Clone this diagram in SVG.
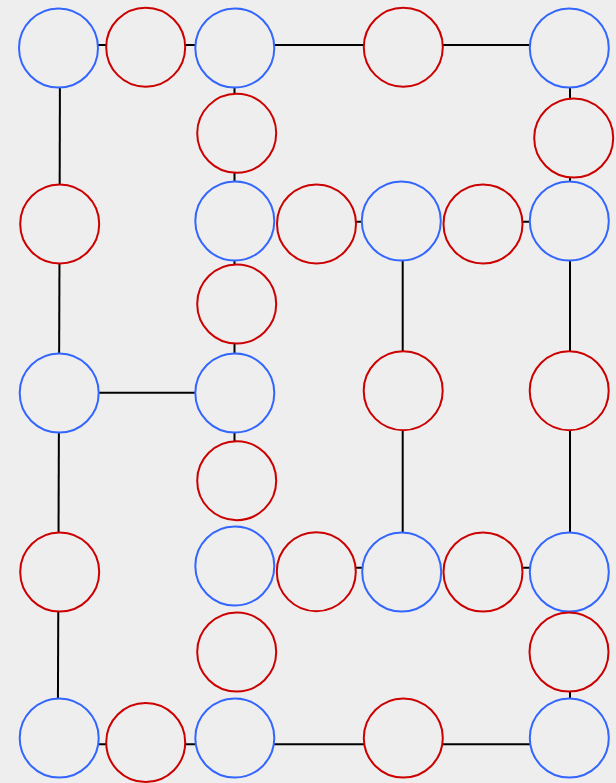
<svg xmlns="http://www.w3.org/2000/svg" width="616" height="783" viewBox="0 0 616 783">
<style>
.b{fill:#eeeeee;stroke:#3366ff;stroke-width:2}
.r{fill:#eeeeee;stroke:#cc0000;stroke-width:2}
#connectors line{stroke:#000;stroke-width:2}
</style>
<rect width="616" height="783" fill="#eeeeee"/>
<g id="connectors">
<line x1="58" y1="45" x2="146" y2="45"/>
<line x1="146" y1="45" x2="235" y2="45"/>
<line x1="235" y1="45" x2="403" y2="45"/>
<line x1="403" y1="45" x2="569" y2="45"/>
<line x1="60" y1="48" x2="59.6" y2="224"/>
<line x1="59.6" y1="224" x2="59" y2="393"/>
<line x1="59" y1="393" x2="58.4" y2="572"/>
<line x1="58.4" y1="572" x2="57.8" y2="738"/>
<line x1="59" y1="392.7" x2="235" y2="392.7"/>
<line x1="234.5" y1="48" x2="234.5" y2="133"/>
<line x1="234.5" y1="133" x2="234.5" y2="221"/>
<line x1="234.5" y1="221" x2="234.5" y2="304"/>
<line x1="234.5" y1="304" x2="234.5" y2="393"/>
<line x1="234.5" y1="393" x2="234.5" y2="481"/>
<line x1="316" y1="221.7" x2="401" y2="221.7"/>
<line x1="483" y1="221.7" x2="569" y2="221.7"/>
<line x1="402.7" y1="221" x2="402.7" y2="391"/>
<line x1="402.7" y1="391" x2="402.7" y2="572"/>
<line x1="570" y1="48" x2="570" y2="138"/>
<line x1="570" y1="138" x2="570" y2="221"/>
<line x1="570" y1="221" x2="570" y2="391"/>
<line x1="570" y1="391" x2="570" y2="572"/>
<line x1="570" y1="652" x2="570" y2="738"/>
<line x1="316" y1="567.7" x2="401" y2="567.7"/>
<line x1="483" y1="567.7" x2="569" y2="567.7"/>
<line x1="59" y1="744.3" x2="146" y2="744.3"/>
<line x1="146" y1="744.3" x2="235" y2="744.3"/>
<line x1="235" y1="744.3" x2="403" y2="744.3"/>
<line x1="403" y1="744.3" x2="569" y2="744.3"/>
</g>
<g id="b1"><circle class="b" cx="58.5" cy="48" r="39.5"/></g>
<g id="r1"><circle class="r" cx="145.7" cy="47.2" r="39.5"/></g>
<g id="b2"><circle class="b" cx="234.8" cy="48" r="39.5"/></g>
<g id="r2"><circle class="r" cx="403.3" cy="47.2" r="39.5"/></g>
<g id="b3"><circle class="b" cx="569.3" cy="48" r="39.5"/></g>
<g id="r3"><circle class="r" cx="236.7" cy="133.3" r="39.5"/></g>
<g id="r4"><circle class="r" cx="573.7" cy="138" r="39.5"/></g>
<g id="r5"><circle class="r" cx="59.7" cy="224" r="39.5"/></g>
<g id="b4"><circle class="b" cx="234.8" cy="221" r="39.5"/></g>
<g id="r6"><circle class="r" cx="316.5" cy="224" r="39.5"/></g>
<g id="b5"><circle class="b" cx="401.3" cy="221" r="39.5"/></g>
<g id="r7"><circle class="r" cx="483" cy="224" r="39.5"/></g>
<g id="b6"><circle class="b" cx="569.3" cy="221" r="39.5"/></g>
<g id="r8"><circle class="r" cx="236.7" cy="304" r="39.5"/></g>
<g id="b7"><circle class="b" cx="59.2" cy="393" r="39.5"/></g>
<g id="b8"><circle class="b" cx="234.8" cy="393" r="39.5"/></g>
<g id="r9"><circle class="r" cx="403.2" cy="390.7" r="39.5"/></g>
<g id="r10"><circle class="r" cx="569.2" cy="390.7" r="39.5"/></g>
<g id="r11"><circle class="r" cx="236.7" cy="480.7" r="39.5"/></g>
<g id="r12"><circle class="r" cx="59.7" cy="572" r="39.5"/></g>
<g id="b9"><circle class="b" cx="234.8" cy="566" r="39.5"/></g>
<g id="r13"><circle class="r" cx="316.3" cy="571.7" r="39.5"/></g>
<g id="b10"><circle class="b" cx="401.7" cy="572" r="39.5"/></g>
<g id="r14"><circle class="r" cx="483" cy="572" r="39.5"/></g>
<g id="b11"><circle class="b" cx="569.3" cy="572" r="39.5"/></g>
<g id="r15"><circle class="r" cx="236.7" cy="652" r="39.5"/></g>
<g id="r16"><circle class="r" cx="569" cy="652" r="39.5"/></g>
<g id="b12"><circle class="b" cx="59.2" cy="738" r="39.5"/></g>
<g id="r17"><circle class="r" cx="145.7" cy="742.5" r="39.5"/></g>
<g id="b13"><circle class="b" cx="234.8" cy="738" r="39.5"/></g>
<g id="r18"><circle class="r" cx="403.3" cy="738" r="39.5"/></g>
<g id="b14"><circle class="b" cx="569.3" cy="738" r="39.5"/></g>
</svg>
